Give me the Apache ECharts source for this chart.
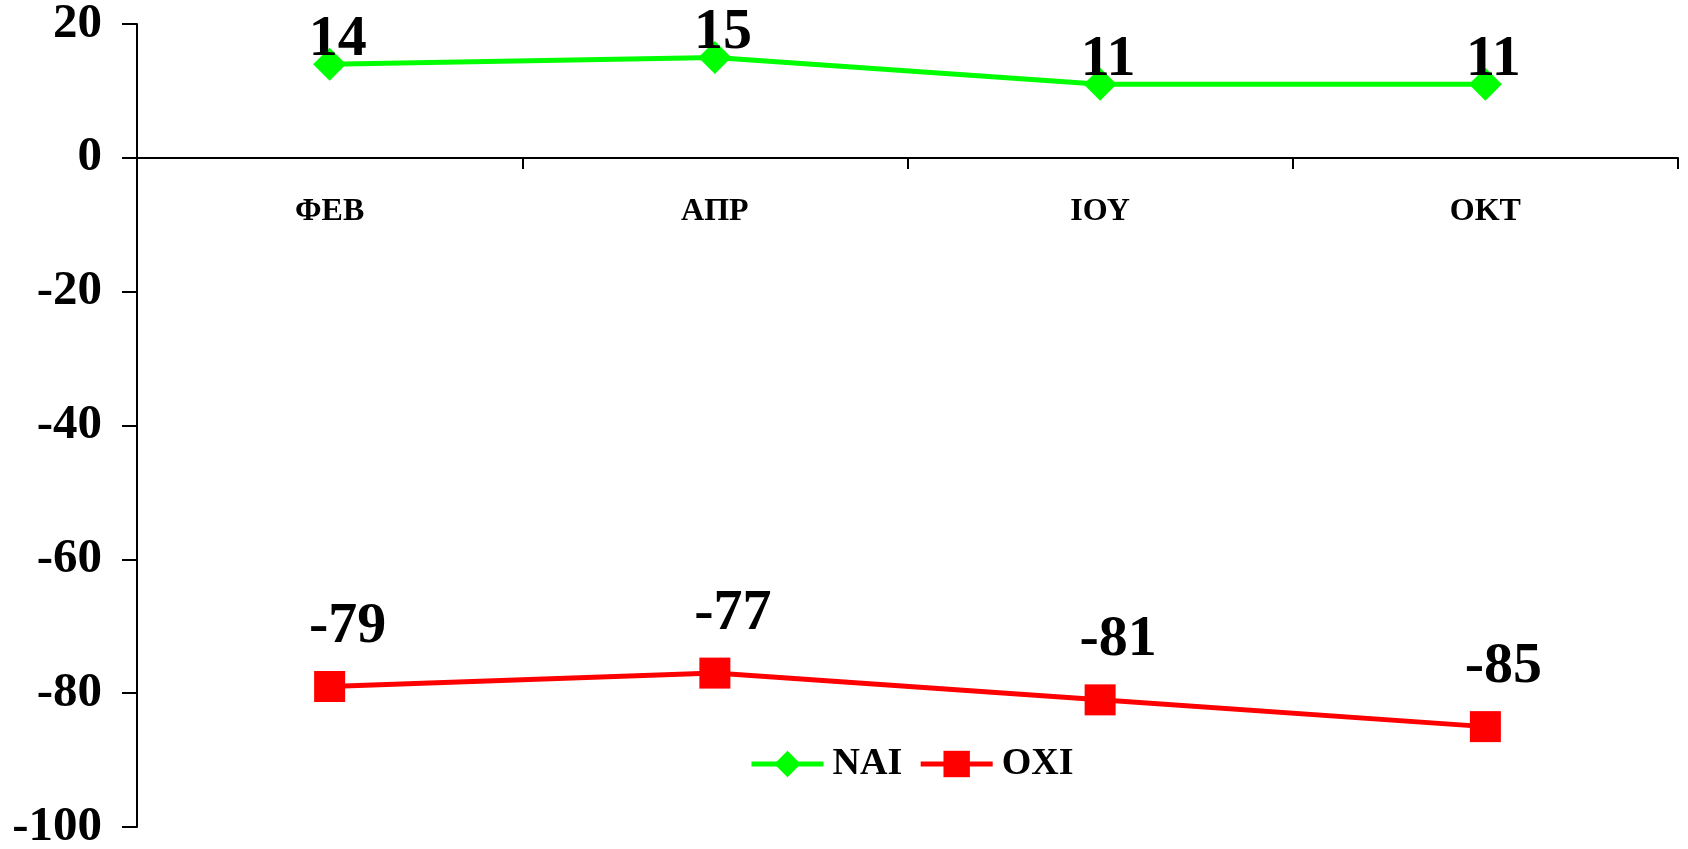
<!DOCTYPE html>
<html>
<head>
<meta charset="utf-8">
<script src="https://cdn.jsdelivr.net/npm/echarts@6/dist/echarts.min.js"></script>
<style>
html,body{margin:0;padding:0;background:#fff;}
#chart{width:1688px;height:849px;}
</style>
</head>
<body>
<div id="chart"></div>
<script>
const categories = ['ΦΕΒ', 'ΑΠΡ', 'ΙΟΥ', 'ΟΚΤ'];
const naiValues = [14, 15, 11, 11];
const oxiValues = [-79, -77, -81, -85];
const seriesNames = ['NAI', 'OXI'];

const FONT = '"Liberation Serif", "Times New Roman", serif';
const chart = echarts.init(document.getElementById('chart'), null, {renderer: 'canvas'});
chart.setOption({
  backgroundColor: '#fff',
  animation: false,
  grid: {left: 137, right: 10, top: 24, bottom: 22, containLabel: false, outerBoundsMode: 'none'},
  legend: {
    data: seriesNames,
    left: 749,
    top: 745,
    padding: 0,
    itemWidth: 72,
    itemHeight: 33,
    itemGap: 16,
    lineStyle: {width: 5},
    textStyle: {fontFamily: FONT, fontWeight: 'bold', fontSize: 38, color: '#000', padding: [0, 0, 0, 4]}
  },
  xAxis: {
    type: 'category',
    data: categories,
    boundaryGap: true,
    position: 'top',
    offset: -134,
    axisLine: {onZero: false, lineStyle: {color: '#000', width: 2}},
    axisTick: {show: true, inside: true, length: 11, lineStyle: {color: '#000', width: 2}},
    axisLabel: {inside: true, fontFamily: FONT, fontWeight: 'bold', fontSize: 32, color: '#000', margin: 38},
    splitLine: {show: false}
  },
  yAxis: {
    type: 'value',
    min: -100,
    max: 20,
    interval: 20,
    axisLine: {show: true, lineStyle: {color: '#000', width: 2}},
    axisTick: {show: true, inside: false, length: 15, lineStyle: {color: '#000', width: 2}},
    axisLabel: {fontFamily: FONT, fontWeight: 'bold', fontSize: 49, color: '#000', margin: 35},
    splitLine: {show: false}
  },
  series: [
    {
      name: seriesNames[0],
      type: 'line',
      data: naiValues,
      symbol: 'diamond',
      symbolSize: 33,
      lineStyle: {color: '#00ff00', width: 5},
      itemStyle: {color: '#00ff00'},
      label: {show: true, position: 'top', distance: 0, offset: [8, 21],
        fontFamily: FONT, fontWeight: 'bold', fontSize: 58, color: '#000'}
    },
    {
      name: seriesNames[1],
      type: 'line',
      data: oxiValues,
      symbol: 'rect',
      symbolSize: 31,
      lineStyle: {color: '#ff0000', width: 5},
      itemStyle: {color: '#ff0000'},
      label: {show: true, position: 'top', distance: 0, offset: [18, -15],
        fontFamily: FONT, fontWeight: 'bold', fontSize: 58, color: '#000'}
    }
  ]
});
</script>
</body>
</html>
